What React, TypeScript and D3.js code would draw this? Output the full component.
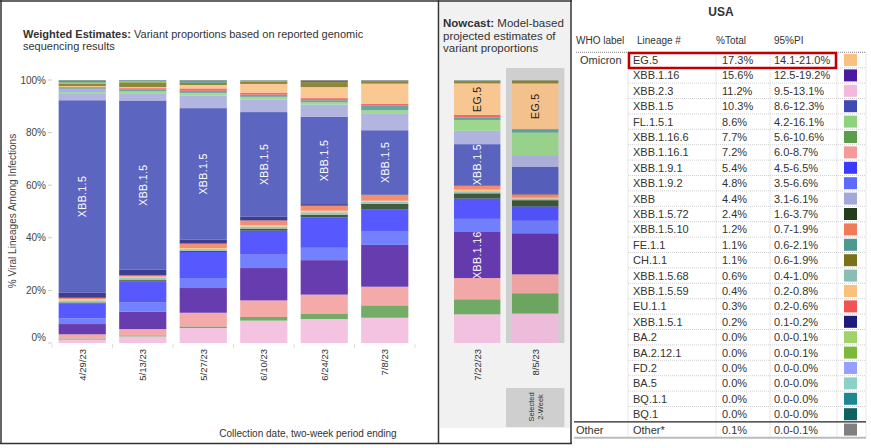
import React from "react";
import * as d3 from "d3";

// ---------- DATA ----------
const periods = ["4/29/23", "5/13/23", "5/27/23", "6/10/23", "6/24/23", "7/8/23", "7/22/23", "8/5/23"];
const weightedPeriods = periods.slice(0, 6);
const nowcastPeriods = periods.slice(6);
const selectedPeriod = "8/5/23";
const yTicks = [0, 20, 40, 60, 80, 100];

// stack order, bottom -> top
const lineages = [
  "XBB.2.3", "XBB.1.16.6", "XBB.1.16.1", "XBB.1.16", "XBB.1.9.2", "XBB.1.9.1",
  "XBB.1.5.72", "XBB.1.5.68", "XBB.1.5.59", "XBB.1.5.10", "XBB.1.5.1", "XBB.1.5",
  "XBB", "FL.1.5.1", "FD.2", "FE.1.1", "EU.1.1", "EG.5", "CH.1.1",
  "BA.2", "BA.2.12.1", "BA.5", "BQ.1.1", "BQ.1", "Other",
];
const lineageColors = [
  "#F2B9DD", "#5A9E4C", "#F29B9A", "#4B1AA0", "#5C6BFF", "#3B3BFF",
  "#223E1C", "#8ABDB4", "#FBC07C", "#F27A58", "#1D1B7C", "#3F4AB4",
  "#A3A8DA", "#8ED27E", "#96A0FF", "#4E9890", "#EF5353", "#F9C080", "#7A7218",
  "#A0D46A", "#7CB83C", "#8CD1C6", "#1E8890", "#0F6262", "#808080",
];

// % per period (8 periods) for each lineage
const vXBB_2_3 = [1.3, 2.5, 5.7, 8.5, 9.1, 9.6, 10.9, 11.2];
const vXBB_1_16_6 = [0.4, 0.4, 0.6, 1.4, 2.1, 4.7, 5.7, 7.7];
const vXBB_1_16_1 = [1.6, 2.4, 5.2, 6.3, 7.2, 7.1, 8.1, 7.2];
const vXBB_1_16 = [3.9, 6.6, 9.4, 12.3, 13.1, 15.9, 17.5, 15.6];
const vXBB_1_9_2 = [2.2, 3.5, 3.8, 5.1, 4.7, 5.3, 5.0, 4.8];
const vXBB_1_9_1 = [5.6, 8.1, 9.9, 9.1, 11.5, 8.1, 7.7, 5.4];
const vXBB_1_5_72 = [0.4, 0.4, 0.4, 0.8, 1.1, 2.2, 2.0, 2.4];
const vXBB_1_5_68 = [0.8, 0.8, 0.7, 0.8, 0.9, 0.8, 0.8, 0.6];
const vXBB_1_5_59 = [0.5, 0.5, 0.4, 0.5, 0.6, 0.4, 0.6, 0.4];
const vXBB_1_5_10 = [0.5, 0.5, 1.7, 1.8, 1.9, 2.2, 1.5, 1.2];
const vXBB_1_5_1 = [1.9, 2.2, 1.5, 1.4, 0.6, 0.2, 0.2, 0.2];
const vXBB_1_5 = [73.2, 64.3, 50.0, 39.8, 33.2, 24.4, 15.6, 10.3];
const vXBB = [2.7, 2.8, 4.8, 4.8, 4.6, 6.2, 5.1, 4.4];
const vFL_1_5_1 = [0.4, 0.5, 0.9, 0.9, 0.9, 1.4, 4.1, 8.6];
const vFD_2 = [1.2, 0.3, 0.1, 0.1, 0.0, 0.0, 0.0, 0.0];
const vFE_1_1 = [0.3, 0.5, 0.8, 0.8, 0.8, 1.9, 1.0, 1.1];
const vEU_1_1 = [0.4, 0.6, 0.9, 0.8, 0.8, 0.6, 0.9, 0.3];
const vEG_5 = [0.4, 0.4, 1.3, 3.3, 4.2, 7.6, 12.0, 17.3];
const vCH_1_1 = [0.9, 1.8, 0.9, 1.0, 1.9, 0.8, 0.9, 1.1];
const vBA_2 = [0.0, 0.0, 0.0, 0.0, 0.0, 0.0, 0.0, 0.0];
const vBA_2_12_1 = [0.5, 0.4, 0.0, 0.2, 0.0, 0.0, 0.1, 0.0];
const vBA_5 = [0.0, 0.0, 0.0, 0.0, 0.0, 0.0, 0.0, 0.0];
const vBQ_1_1 = [0.5, 0.3, 0.5, 0.1, 0.0, 0.0, 0.1, 0.0];
const vBQ_1 = [0.2, 0.1, 0.3, 0.0, 0.4, 0.3, 0.0, 0.0];
const vOther = [0.2, 0.1, 0.2, 0.2, 0.4, 0.3, 0.2, 0.1];

const seriesValues = [
  vXBB_2_3, vXBB_1_16_6, vXBB_1_16_1, vXBB_1_16, vXBB_1_9_2, vXBB_1_9_1,
  vXBB_1_5_72, vXBB_1_5_68, vXBB_1_5_59, vXBB_1_5_10, vXBB_1_5_1, vXBB_1_5,
  vXBB, vFL_1_5_1, vFD_2, vFE_1_1, vEU_1_1, vEG_5, vCH_1_1,
  vBA_2, vBA_2_12_1, vBA_5, vBQ_1_1, vBQ_1, vOther,
];

// in-bar labels
const labelPeriods = ["4/29/23", "5/13/23", "5/27/23", "6/10/23", "6/24/23", "7/8/23", "7/22/23", "7/22/23", "7/22/23", "8/5/23"];
const labelLineages = ["XBB.1.5", "XBB.1.5", "XBB.1.5", "XBB.1.5", "XBB.1.5", "XBB.1.5", "XBB.1.5", "XBB.1.16", "EG.5", "EG.5"];
const labelDark = ["EG.5"];

// table
const tableLineages = [
  "EG.5", "XBB.1.16", "XBB.2.3", "XBB.1.5", "FL.1.5.1", "XBB.1.16.6", "XBB.1.16.1", "XBB.1.9.1",
  "XBB.1.9.2", "XBB", "XBB.1.5.72", "XBB.1.5.10", "FE.1.1", "CH.1.1", "XBB.1.5.68", "XBB.1.5.59",
  "EU.1.1", "XBB.1.5.1", "BA.2", "BA.2.12.1", "FD.2", "BA.5", "BQ.1.1", "BQ.1", "Other",
];
const tableTotals = [
  "17.3%", "15.6%", "11.2%", "10.3%", "8.6%", "7.7%", "7.2%", "5.4%",
  "4.8%", "4.4%", "2.4%", "1.2%", "1.1%", "1.1%", "0.6%", "0.4%",
  "0.3%", "0.2%", "0.0%", "0.0%", "0.0%", "0.0%", "0.0%", "0.0%", "0.1%",
];
const tablePI = [
  "14.1-21.0%", "12.5-19.2%", "9.5-13.1%", "8.6-12.3%", "4.2-16.1%", "5.6-10.6%", "6.0-8.7%", "4.5-6.5%",
  "3.5-6.6%", "3.1-6.1%", "1.6-3.7%", "0.7-1.9%", "0.6-2.1%", "0.6-1.9%", "0.4-1.0%", "0.2-0.8%",
  "0.2-0.6%", "0.1-0.2%", "0.0-0.1%", "0.0-0.1%", "0.0-0.0%", "0.0-0.0%", "0.0-0.0%", "0.0-0.0%", "0.0-0.1%",
];
const tableDisplayNames = tableLineages.map((l) => (l === "Other" ? "Other*" : l));

// ---------- COMPONENT ----------
const FONT = "'Liberation Sans', Arial, Helvetica, sans-serif";

export default function App() {
  const rows = periods.map((p, i) => {
    const r: any = { period: p };
    lineages.forEach((l, j) => (r[l] = seriesValues[j][i]));
    return r;
  });
  const stacked = d3.stack<any>().keys(lineages)(rows);
  const color = d3.scaleOrdinal<string, string>().domain(lineages).range(lineageColors);

  const y = d3.scaleLinear().domain([0, 100]).range([343, 80]);
  const xW = d3.scaleBand<string>().domain(weightedPeriods).range([52, 415]).paddingInner(0.22).paddingOuter(0.11);
  const xN = d3.scaleBand<string>().domain(nowcastPeriods).range([448.2, 564.2]).paddingInner(0.2).paddingOuter(0.1);
  const xPos = (p: string) => (xW.domain().includes(p) ? (xW(p) as number) : (xN(p) as number));
  const bw = (p: string) => (xW.domain().includes(p) ? xW.bandwidth() : xN.bandwidth());

  const rowTop = (i: number) => 52.3 + i * 15.4;
  const rowH = 15.4;
  const selX = xN(selectedPeriod) as number;

  const textColor = "#333";

  return (
    <svg width={871} height={448} style={{ position: "absolute", left: 0, top: 0, background: "#fff" }} fontFamily={FONT}>
      <rect x={0} y={0} width={871} height={448} fill="#fff" />

      {/* Nowcast background */}
      <rect x={440} y={1} width={130} height={427} fill="#f1f1f1" />
      <rect x={selX - 6} y={68} width={xN.bandwidth() + 12} height={275} fill="#cfcfcf" />

      {/* Titles */}
      <text x={23} y={38} fontSize={11} fill={textColor}>
        <tspan fontWeight="bold">Weighted Estimates:</tspan>
        <tspan> Variant proportions based on reported genomic</tspan>
      </text>
      <text x={23} y={50} fontSize={11} fill={textColor}>sequencing results</text>

      <text x={443} y={27} fontSize={11.5} fill={textColor}>
        <tspan fontWeight="bold">Nowcast:</tspan>
        <tspan> Model-based</tspan>
      </text>
      <text x={443} y={40} fontSize={11.5} fill={textColor}>projected estimates of</text>
      <text x={443} y={52} fontSize={11.5} fill={textColor}>variant proportions</text>

      {/* Y axis */}
      {yTicks.map((t) => (
        <g key={t}>
          <line x1={48} x2={52} y1={y(t)} y2={y(t)} stroke="#ccc" />
          <text x={46} y={(t === 0 ? y(t) - 6 : y(t)) + 3.5} fontSize={10} textAnchor="end" fill="#444">
            {t}%
          </text>
        </g>
      ))}
      <text transform={`translate(16,211) rotate(-90)`} fontSize={10} textAnchor="middle" fill="#444">
        % Viral Lineages Among Infections
      </text>

      {/* X axis ticks (band boundaries) */}
      {weightedPeriods.map((p, i) => (
        <line key={p} x1={52 + i * xW.step()} x2={52 + i * xW.step()} y1={344} y2={348} stroke="#ddd" />
      ))}
      <line x1={415} x2={415} y1={344} y2={348} stroke="#ddd" />

      {/* Bars */}
      {stacked.map((s) => (
        <g key={s.key} fill={color(s.key)} fillOpacity={0.85}>
          {s.map((d, i) => {
            const p = periods[i];
            const h = y(d[0]) - y(d[1]);
            if (h <= 0) return null;
            return <rect key={p} x={xPos(p)} y={y(d[1])} width={bw(p)} height={h} />;
          })}
        </g>
      ))}

      {/* In-bar labels */}
      {labelPeriods.map((p, k) => {
        const lin = labelLineages[k];
        const s = stacked[lineages.indexOf(lin)];
        const d = s[periods.indexOf(p)];
        const cy = (y(d[0]) + y(d[1])) / 2;
        const cx = xPos(p) + bw(p) / 2;
        const dark = labelDark.includes(lin);
        return (
          <text
            key={k}
            transform={`translate(${cx},${cy}) rotate(-90)`}
            textAnchor="middle"
            dominantBaseline="central"
            fontSize={10.5}
            letterSpacing={0.4}
            fill={dark ? "#222" : "#fff"}
          >
            {lin}
          </text>
        );
      })}

      {/* X labels */}
      {periods.map((p) => (
        <text
          key={p}
          transform={`translate(${xPos(p) + bw(p) / 2},349) rotate(-90)`}
          textAnchor="end"
          dominantBaseline="central"
          fontSize={9.5}
          fill="#333"
        >
          {p}
        </text>
      ))}
      <text x={308} y={437} fontSize={10} textAnchor="middle" fill="#333">
        Collection date, two-week period ending
      </text>

      {/* Selected box */}
      <rect x={selX - 6} y={388} width={xN.bandwidth() + 12} height={39} fill="#cfcfcf" />
      <text transform={`translate(${selX + xN.bandwidth() / 2 - 4},407) rotate(-90)`} textAnchor="middle" dominantBaseline="central" fontSize={7.5} fill="#333">
        Selected
      </text>
      <text transform={`translate(${selX + xN.bandwidth() / 2 + 5},407) rotate(-90)`} textAnchor="middle" dominantBaseline="central" fontSize={7.5} fill="#333">
        2-Week
      </text>

      {/* Panel borders */}
      <line x1={0} x2={572} y1={1} y2={1} stroke="#333" strokeWidth={1.5} />
      <line x1={1} x2={1} y1={0} y2={444} stroke="#333" strokeWidth={1.5} />
      <line x1={0} x2={572} y1={443.5} y2={443.5} stroke="#333" strokeWidth={1.5} />
      <line x1={438.5} x2={438.5} y1={0} y2={444} stroke="#333" strokeWidth={1.5} />
      <line x1={571} x2={571} y1={0} y2={444} stroke="#333" strokeWidth={1.5} />

      {/* ---------- Table ---------- */}
      <text x={721} y={16} fontSize={12} fontWeight="bold" textAnchor="middle" fill="#333">USA</text>
      <text x={576} y={44} fontSize={10} fill="#333">WHO label</text>
      <text x={637} y={44} fontSize={10} fill="#333">Lineage #</text>
      <text x={716} y={44} fontSize={10} fill="#333">%Total</text>
      <text x={774} y={44} fontSize={10} fill="#333">95%PI</text>
      <line x1={576} x2={866} y1={52.3} y2={52.3} stroke="#888" strokeDasharray="1,1" />

      {/* row grid */}
      {tableLineages.map((l, i) =>
        i > 0 && l !== "Other" ? (
          <line key={"h" + l} x1={628} x2={866} y1={rowTop(i)} y2={rowTop(i)} stroke="#d0d0d0" strokeDasharray="1,1" />
        ) : null
      )}
      {[628, 716, 770, 837, 866].map((x) => (
        <line key={"v" + x} x1={x} x2={x} y1={52.3} y2={rowTop(tableLineages.length)} stroke="#d0d0d0" strokeDasharray="1,1" />
      ))}
      <line x1={574} x2={866} y1={rowTop(tableLineages.length - 1)} y2={rowTop(tableLineages.length - 1)} stroke="#222" strokeWidth={1.2} />
      <line x1={574} x2={866} y1={rowTop(tableLineages.length) + 0.5} y2={rowTop(tableLineages.length) + 0.5} stroke="#bbb" strokeWidth={2} />

      <text x={580} y={rowTop(0) + rowH / 2 + 4} fontSize={11} fill="#333">Omicron</text>
      <text x={576} y={rowTop(tableLineages.length - 1) + rowH / 2 + 4} fontSize={11} fill="#333">Other</text>

      {tableLineages.map((l, i) => {
        const cy = rowTop(i) + rowH / 2;
        return (
          <g key={"r" + l}>
            <text x={633} y={cy + 4} fontSize={11} fill="#333">{tableDisplayNames[i]}</text>
            <text x={722} y={cy + 4} fontSize={11} fill="#333">{tableTotals[i]}</text>
            <text x={774} y={cy + 4} fontSize={11} fill="#333">{tablePI[i]}</text>
            <rect x={844} y={cy - 6} width={13} height={12} fill={color(l)} />
          </g>
        );
      })}

      <rect x={629} y={53} width={207} height={15} fill="none" stroke="#c00000" strokeWidth={2.5} />
    </svg>
  );
}
